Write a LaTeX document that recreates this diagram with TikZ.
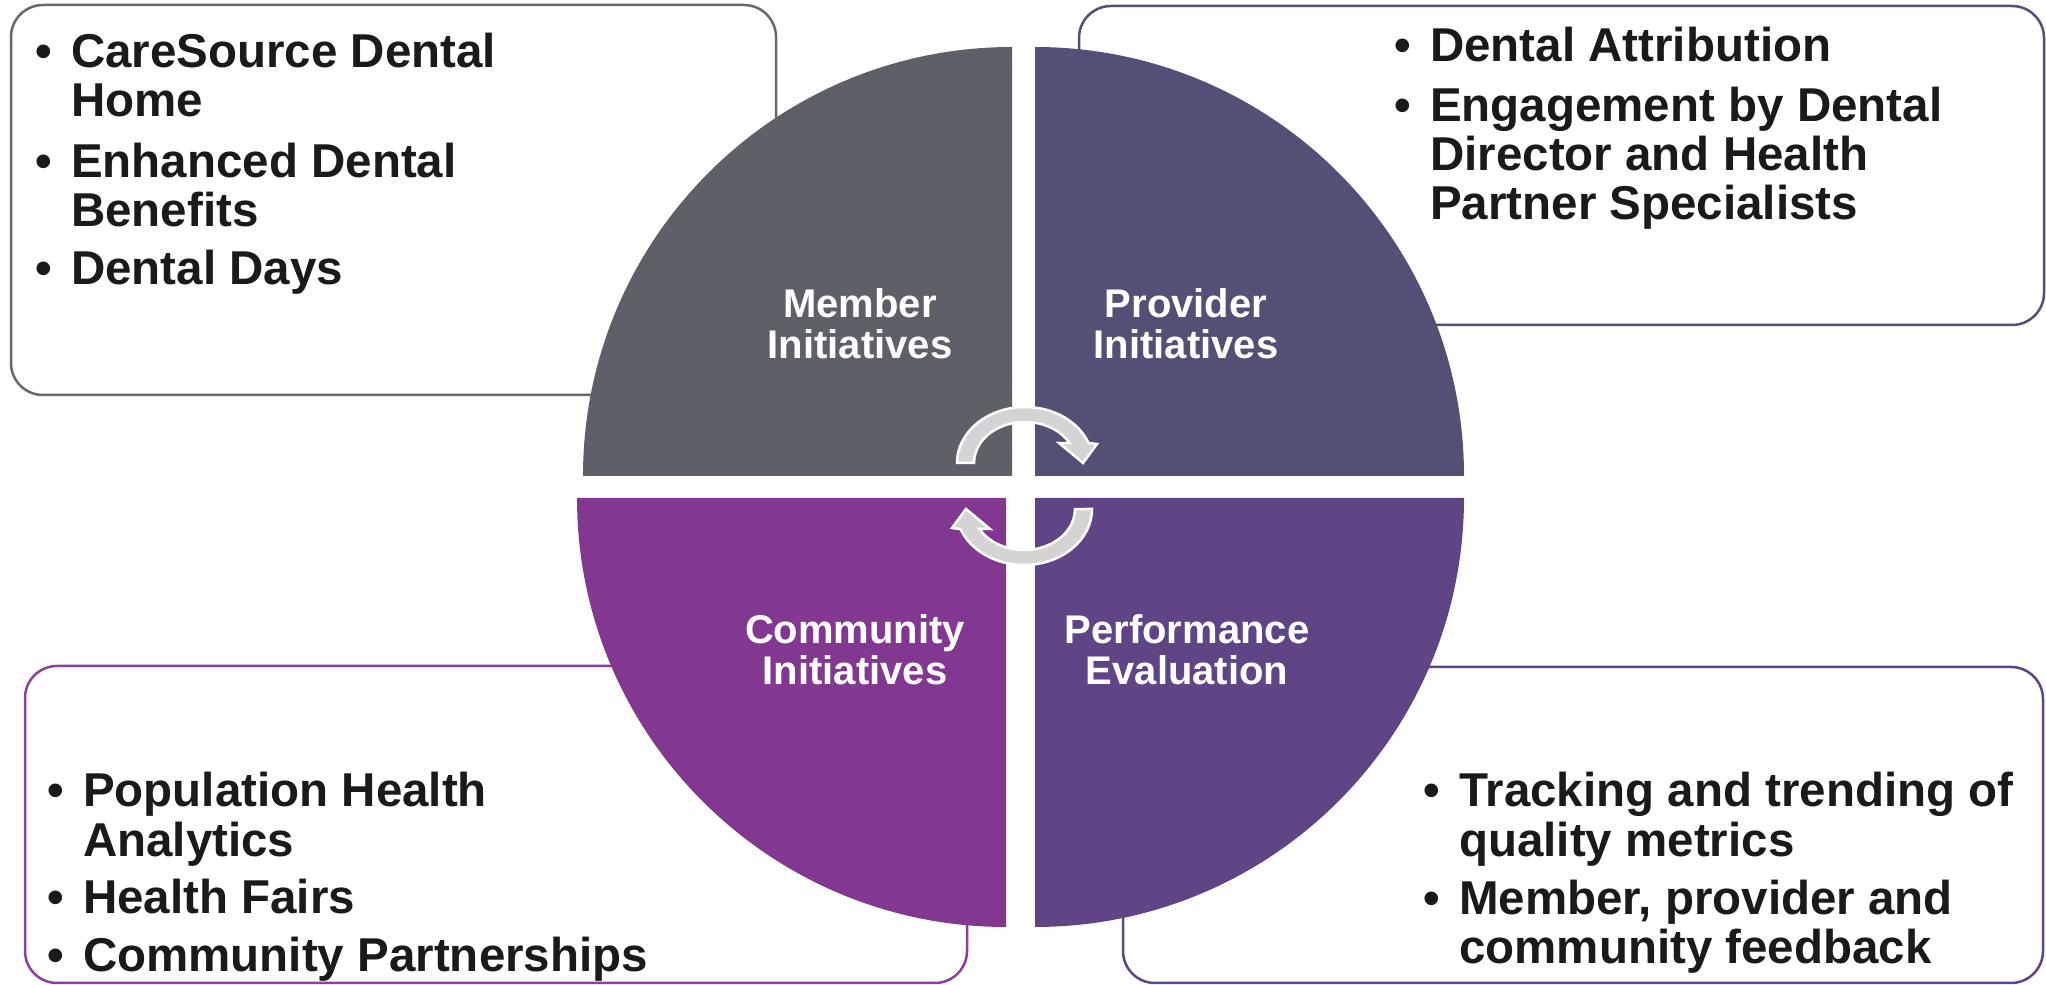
\documentclass[tikz,border=0pt]{standalone}
\usepackage{fontspec}
\setmainfont{Liberation Sans}
\definecolor{memberfill}{HTML}{5E6068}
\definecolor{providerfill}{HTML}{525075}
\definecolor{communityfill}{HTML}{823891}
\definecolor{perffill}{HTML}{5F4586}
\definecolor{arrowfill}{HTML}{D4D4D4}
\definecolor{bodytext}{HTML}{1A1A1A}
\newcommand{\bul}{\makebox[36pt][l]{•}}
\begin{document}
\begin{tikzpicture}[x=1pt,y=1pt,
  listbox/.style={draw=#1, line width=2.5pt, rounded corners=32pt, fill=white},
  listtext/.style={anchor=base west, inner sep=0pt, text=bodytext,
    font=\fontsize{47.5}{49}\selectfont\bfseries},
  quadlabel/.style={text=white, align=center, inner sep=0pt,
    font=\fontsize{40}{41}\selectfont\bfseries},
  cyclearrow/.style={fill=arrowfill, draw=white, line width=2.5pt, line join=miter}]
\useasboundingbox (0,0) rectangle (2046,985);

% outline boxes behind the circle
\draw[listbox=memberfill!95!white]    (11,590)   rectangle (776,980);
\draw[listbox=providerfill] (1079,660) rectangle (2044,979);
\draw[listbox=communityfill!95!white] (25,2)     rectangle (967,319);
\draw[listbox=perffill]     (1123,2)   rectangle (2043,318);

% four quarter discs
\fill[memberfill]    (1012,509) -- (583,509) arc[start angle=180,end angle=90,radius=429] -- cycle;
\fill[providerfill]  (1035,509) -- (1464,509) arc[start angle=0,end angle=90,radius=429] -- cycle;
\fill[communityfill] (1006,487) -- (577,487) arc[start angle=180,end angle=270,radius=429] -- cycle;
\fill[perffill]      (1035,487) -- (1464,487) arc[start angle=0,end angle=-90,radius=429] -- cycle;

% cycle arrows in the middle
\path[cyclearrow] (957,522) arc[start angle=180,end angle=21,x radius=68,y radius=56]
  -- (1097,541) -- (1083,522) -- (1059,542) -- (1069.6,541.9)
  arc[start angle=29,end angle=180,x radius=51,y radius=41] -- cycle;
\begin{scope}[rotate around={180:(1024.5,499)}]
\path[cyclearrow] (957,522) arc[start angle=180,end angle=21,x radius=68,y radius=56]
  -- (1097,541) -- (1083,522) -- (1059,542) -- (1069.6,541.9)
  arc[start angle=29,end angle=180,x radius=51,y radius=41] -- cycle;
\end{scope}

% quadrant labels
\node[quadlabel] (member)    at (860,661)  {Member\\Initiatives};
\node[quadlabel] (provider)  at (1186,661) {Provider\\Initiatives};
\node[quadlabel] (community) at (855,335)  {Community\\Initiatives};
\node[quadlabel] (perf)      at (1187,335) {Performance\\Evaluation};

% bullet lists
\node[listtext] (memberlist) at (35,917) {\begin{tabular}[t]{@{}l@{}l@{}}
\bul & CareSource Dental\\ & Home\\[11pt]
\bul & Enhanced Dental\\ & Benefits\\[9pt]
\bul & Dental Days
\end{tabular}};
\node[listtext] (providerlist) at (1394,923) {\begin{tabular}[t]{@{}l@{}l@{}}
\bul & Dental Attribution\\[10pt]
\bul & Engagement by Dental\\ & Director and Health\\ & Partner Specialists
\end{tabular}};
\node[listtext] (communitylist) at (47,178) {\begin{tabular}[t]{@{}l@{}l@{}}
\bul & Population Health\\ & Analytics\\[8pt]
\bul & Health Fairs\\[9pt]
\bul & Community Partnerships
\end{tabular}};
\node[listtext] (perflist) at (1423,178) {\begin{tabular}[t]{@{}l@{}l@{}}
\bul & Tracking and trending of\\ & quality metrics\\[9pt]
\bul & Member, provider and\\ & community feedback
\end{tabular}};
\end{tikzpicture}
\end{document}
